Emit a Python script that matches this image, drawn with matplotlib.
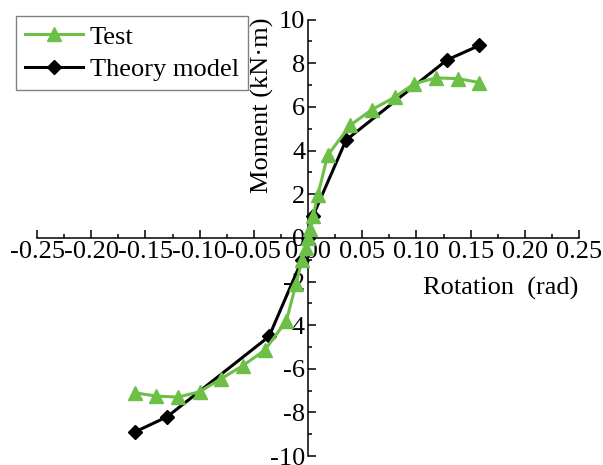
import matplotlib
matplotlib.use('Agg')
import matplotlib.pyplot as plt
from matplotlib.ticker import MultipleLocator, FormatStrFormatter

# values
test_x = [-0.160, -0.140, -0.120, -0.100, -0.080, -0.060, -0.040, -0.020, -0.011, -0.0055, -0.002,
          0.0, 0.002, 0.0045, 0.009, 0.018, 0.039, 0.059, 0.080, 0.098, 0.118, 0.138, 0.158]
test_y = [-7.10, -7.25, -7.30, -7.05, -6.45, -5.85, -5.15, -3.80, -2.10, -1.00, -0.45,
          0.0, 0.40, 1.00, 1.95, 3.78, 5.17, 5.88, 6.45, 7.07, 7.33, 7.30, 7.12]

theory_x = [-0.160, -0.130, -0.036, -0.0055, 0.0, 0.0045, 0.035, 0.128, 0.158]
theory_y = [-8.90, -8.20, -4.52, -1.00, 0.0, 1.00, 4.48, 8.15, 8.82]

plt.rcParams['font.family'] = ['Liberation Serif', 'DejaVu Serif']
plt.rcParams['axes.unicode_minus'] = False
fs = 19

fig = plt.figure(figsize=(6.03, 4.65), dpi=100)
ax = fig.add_axes([0.0614, 0.0192, 0.899, 0.9385])

# green series sits on top of the black one
ax.plot(test_x, test_y, color='#6cbf47', lw=2.2, marker='^', ms=9.5, label='Test', zorder=4)
ax.plot(theory_x, theory_y, color='black', lw=2.2, marker='D', ms=7, label='Theory model', zorder=3)

ax.set_xlim(-0.25, 0.25)
ax.set_ylim(-10, 10)

# axes crossing at the origin
ax.spines['left'].set_position(('data', 0))
ax.spines['bottom'].set_position(('data', 0))
ax.spines['top'].set_visible(False)
ax.spines['right'].set_visible(False)
for s in ['left', 'bottom']:
    ax.spines[s].set_linewidth(1.1)

ax.xaxis.set_major_locator(MultipleLocator(0.05))
ax.xaxis.set_minor_locator(MultipleLocator(0.025))
ax.yaxis.set_major_locator(MultipleLocator(2))
ax.yaxis.set_minor_locator(MultipleLocator(1))
ax.xaxis.set_major_formatter(FormatStrFormatter('%.2f'))
ax.yaxis.set_major_formatter(FormatStrFormatter('%d'))

ax.tick_params(which='major', direction='in', length=6, width=1.1, labelsize=fs, pad=2)
ax.tick_params(which='minor', direction='in', length=3, width=1.1)

ax.text(0.415, 0.805, 'Moment (kN·m)', transform=ax.transAxes, rotation=90,
        ha='center', va='center', fontsize=fs)
ax.text(0.998, 0.384, 'Rotation  (rad)', transform=ax.transAxes,
        ha='right', va='center', fontsize=fs)

handles, labels = ax.get_legend_handles_labels()
leg = ax.legend(handles, labels, loc='upper left', bbox_to_anchor=(16 / 603, 1 - 16 / 465),
                bbox_transform=fig.transFigure, borderaxespad=0, fontsize=fs,
                fancybox=False, numpoints=1, handlelength=2.2, handletextpad=0.25,
                labelspacing=0.33, borderpad=0.35, framealpha=1)
leg.get_frame().set_edgecolor('#808080')
leg.get_frame().set_linewidth(1.0)

fig.savefig('out.png', dpi=100)
